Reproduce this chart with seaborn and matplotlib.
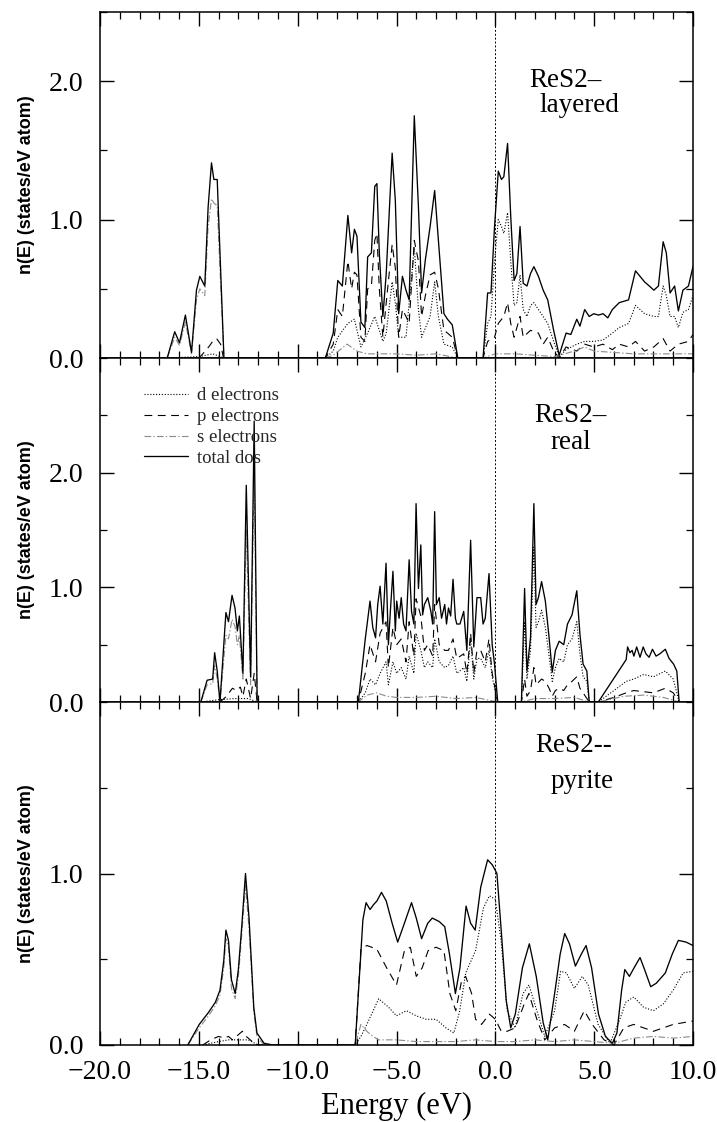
import matplotlib
matplotlib.use("Agg")
import matplotlib.pyplot as plt
import pandas as pd
import seaborn as sns
from matplotlib.ticker import MultipleLocator, FixedLocator, FuncFormatter

# ---------------------------------------------------------------------------
# Density of states, n(E) in states/eV atom, as (energy eV, value) pairs
# ---------------------------------------------------------------------------

# ReS2 layered
layered_total = [
    (-16.6, 0.0), (-16.22, 0.19), (-15.98, 0.11), (-15.68, 0.31), (-15.37, 0.04),
    (-15.12, 0.49), (-14.95, 0.59), (-14.7, 0.52), (-14.53, 1.09), (-14.36, 1.41),
    (-14.24, 1.29), (-14.07, 1.29), (-13.73, 0.0),
    (-8.6, 0.0), (-8.2, 0.18), (-7.97, 0.56), (-7.74, 0.52), (-7.46, 1.03),
    (-7.27, 0.76), (-7.13, 0.93), (-7.0, 0.88), (-6.8, 0.26), (-6.6, 0.22),
    (-6.46, 0.73), (-6.27, 0.76), (-6.1, 1.24), (-5.99, 1.26), (-5.87, 0.76),
    (-5.69, 0.30), (-5.52, 0.61), (-5.22, 1.48), (-5.06, 1.14), (-4.89, 0.32),
    (-4.7, 0.59), (-4.52, 0.49), (-4.36, 0.42), (-4.1, 1.75), (-3.89, 1.09),
    (-3.73, 0.47), (-3.54, 0.71), (-3.3, 0.95), (-3.07, 1.21), (-2.88, 0.85),
    (-2.6, 0.32), (-2.42, 0.28), (-2.18, 0.24), (-1.9, 0.0),
    (-0.62, 0.0), (-0.39, 0.47), (-0.22, 0.47), (-0.04, 0.95), (0.15, 1.35),
    (0.31, 1.29), (0.43, 1.31), (0.62, 1.55), (0.78, 1.02), (0.95, 0.56),
    (1.09, 0.61), (1.25, 0.95), (1.41, 0.54), (1.6, 0.52), (1.78, 0.61),
    (1.95, 0.66), (2.18, 0.59), (2.42, 0.49), (2.65, 0.42), (2.95, 0.20),
    (3.23, 0.02), (3.58, 0.18), (3.82, 0.17), (4.12, 0.28), (4.28, 0.23),
    (4.52, 0.35), (4.75, 0.30), (4.98, 0.32), (5.22, 0.31), (5.45, 0.32),
    (5.69, 0.29), (5.92, 0.35), (6.27, 0.40), (6.74, 0.42), (7.09, 0.63),
    (7.32, 0.59), (7.55, 0.55), (7.79, 0.52), (8.02, 0.49), (8.25, 0.52),
    (8.49, 0.84), (8.65, 0.76), (8.84, 0.47), (9.07, 0.52), (9.26, 0.34),
    (9.49, 0.49), (9.77, 0.52), (10.0, 0.66),
]
layered_d = [
    (-16.6, 0.0), (-15.0, 0.01), (-14.3, 0.03), (-13.73, 0.0),
    (-8.6, 0.0), (-8.2, 0.05), (-7.97, 0.15), (-7.46, 0.25), (-7.13, 0.28),
    (-6.8, 0.08), (-6.46, 0.18), (-6.1, 0.30), (-5.87, 0.20), (-5.69, 0.12),
    (-5.52, 0.18), (-5.22, 0.55), (-5.06, 0.40), (-4.89, 0.15), (-4.52, 0.15),
    (-4.1, 0.80), (-3.89, 0.35), (-3.73, 0.15), (-3.3, 0.30), (-3.07, 0.55),
    (-2.88, 0.30), (-2.6, 0.10), (-2.18, 0.08), (-1.9, 0.0),
    (-0.62, 0.0), (-0.39, 0.25), (-0.22, 0.30), (-0.04, 0.70), (0.15, 1.00),
    (0.31, 0.95), (0.43, 0.90), (0.62, 1.05), (0.78, 0.70), (0.95, 0.38),
    (1.09, 0.40), (1.25, 0.60), (1.41, 0.35), (1.6, 0.30), (1.78, 0.38),
    (1.95, 0.40), (2.18, 0.35), (2.42, 0.30), (2.65, 0.25), (2.95, 0.12),
    (3.23, 0.01), (3.58, 0.06), (4.12, 0.10), (4.52, 0.12), (4.98, 0.12),
    (5.45, 0.13), (5.92, 0.18), (6.27, 0.22), (6.74, 0.25), (7.09, 0.38),
    (7.55, 0.32), (8.02, 0.30), (8.25, 0.30), (8.49, 0.52), (8.65, 0.45),
    (8.84, 0.30), (9.07, 0.30), (9.26, 0.22), (9.49, 0.33), (9.77, 0.35),
    (10.0, 0.45),
]
layered_p = [
    (-15.0, 0.0), (-14.8, 0.03), (-14.5, 0.08), (-14.3, 0.12), (-14.1, 0.14),
    (-13.9, 0.10), (-13.75, 0.0),
    (-8.6, 0.0), (-8.2, 0.10), (-7.97, 0.35), (-7.74, 0.30), (-7.46, 0.70),
    (-7.27, 0.50), (-7.13, 0.62), (-7.0, 0.60), (-6.8, 0.15), (-6.6, 0.12),
    (-6.46, 0.50), (-6.27, 0.52), (-6.1, 0.85), (-5.99, 0.90), (-5.87, 0.50),
    (-5.69, 0.15), (-5.52, 0.40), (-5.22, 0.82), (-5.06, 0.65), (-4.89, 0.15),
    (-4.7, 0.35), (-4.52, 0.30), (-4.36, 0.25), (-4.1, 0.85), (-3.89, 0.70),
    (-3.73, 0.30), (-3.54, 0.45), (-3.3, 0.60), (-3.07, 0.62), (-2.88, 0.50),
    (-2.6, 0.20), (-2.42, 0.18), (-2.18, 0.15), (-1.9, 0.0),
    (-0.62, 0.0), (-0.39, 0.12), (-0.04, 0.15), (0.15, 0.25), (0.43, 0.30),
    (0.62, 0.40), (0.78, 0.25), (0.95, 0.15), (1.25, 0.30), (1.41, 0.15),
    (1.78, 0.20), (2.18, 0.18), (2.42, 0.10), (2.65, 0.15), (2.95, 0.05),
    (3.23, 0.0), (3.58, 0.08), (4.12, 0.05), (4.52, 0.10), (4.98, 0.08),
    (5.45, 0.10), (5.92, 0.06), (6.27, 0.10), (6.74, 0.08), (7.09, 0.12),
    (7.55, 0.05), (8.02, 0.08), (8.49, 0.14), (8.84, 0.05), (9.26, 0.10),
    (9.77, 0.12), (10.0, 0.17),
]
layered_s = [
    (-16.6, 0.0), (-16.22, 0.15), (-15.98, 0.09), (-15.68, 0.26), (-15.37, 0.03),
    (-15.12, 0.42), (-14.95, 0.50), (-14.7, 0.45), (-14.53, 0.95), (-14.36, 1.15),
    (-14.24, 1.12), (-14.07, 1.10), (-13.73, 0.0),
    (-8.6, 0.0), (-8.2, 0.02), (-7.5, 0.10), (-7.0, 0.05), (-6.5, 0.03),
    (-5.0, 0.03), (-4.0, 0.02), (-3.0, 0.03), (-1.9, 0.0),
    (-0.62, 0.0), (0.0, 0.03), (1.0, 0.03), (3.0, 0.01), (4.0, 0.05),
    (4.5, 0.08), (5.0, 0.05), (6.0, 0.04), (7.0, 0.03), (8.0, 0.03),
    (9.0, 0.03), (10.0, 0.03),
]

# ReS2 real structure
real_total = [
    (-14.9, 0.0), (-14.58, 0.19), (-14.3, 0.20), (-14.2, 0.43), (-14.07, 0.27),
    (-13.93, 0.0), (-13.63, 0.78), (-13.5, 0.70), (-13.32, 0.93), (-13.17, 0.82),
    (-13.05, 0.62), (-12.95, 0.75), (-12.77, 0.25), (-12.6, 1.89), (-12.38, 0.22),
    (-12.2, 2.45), (-12.05, 0.0),
    (-6.93, 0.0), (-6.58, 0.55), (-6.34, 0.88), (-6.2, 0.65), (-6.06, 0.56),
    (-5.95, 0.85), (-5.83, 1.01), (-5.69, 0.68), (-5.53, 1.21), (-5.41, 0.50),
    (-5.29, 0.85), (-5.18, 1.14), (-5.06, 0.62), (-4.99, 0.88), (-4.87, 0.73),
    (-4.76, 0.91), (-4.64, 0.68), (-4.52, 0.62), (-4.36, 1.24), (-4.24, 0.79),
    (-4.12, 0.68), (-4.01, 1.73), (-3.89, 0.99), (-3.77, 1.37), (-3.68, 0.76),
    (-3.59, 0.85), (-3.42, 0.91), (-3.26, 0.79), (-3.17, 0.68), (-3.07, 1.66),
    (-2.98, 0.85), (-2.84, 0.91), (-2.72, 0.73), (-2.56, 0.85), (-2.47, 0.68),
    (-2.37, 0.82), (-2.26, 0.75), (-2.14, 1.07), (-2.02, 0.73), (-1.95, 0.68),
    (-1.79, 0.68), (-1.6, 0.79), (-1.44, 0.45), (-1.25, 1.41), (-1.09, 0.48),
    (-0.93, 0.91), (-0.74, 0.91), (-0.62, 0.68), (-0.51, 0.73), (-0.32, 1.12),
    (-0.16, 0.50), (-0.04, 0.33), (0.12, 0.0),
    (1.32, 0.0), (1.48, 0.99), (1.6, 0.27), (1.78, 0.56), (1.95, 1.73),
    (2.06, 0.85), (2.18, 0.91), (2.34, 1.05), (2.53, 0.88), (2.72, 0.56),
    (2.88, 0.26), (3.04, 0.45), (3.23, 0.53), (3.46, 0.50), (3.65, 0.68),
    (3.88, 0.76), (4.12, 0.97), (4.28, 0.59), (4.44, 0.33), (4.63, 0.27),
    (4.75, 0.0),
    (5.21, 0.0), (6.62, 0.37), (6.69, 0.48), (6.81, 0.43), (6.92, 0.45),
    (7.01, 0.40), (7.15, 0.48), (7.32, 0.39), (7.48, 0.48), (7.62, 0.42),
    (7.78, 0.39), (7.95, 0.46), (8.13, 0.40), (8.32, 0.42), (8.6, 0.46),
    (8.79, 0.38), (9.02, 0.33), (9.18, 0.27), (9.3, 0.0),
]
real_d = [
    (-14.9, 0.0), (-14.0, 0.02), (-13.2, 0.03), (-12.5, 0.03), (-12.05, 0.0),
    (-6.93, 0.0), (-6.58, 0.08), (-6.34, 0.20), (-6.06, 0.15), (-5.83, 0.25),
    (-5.53, 0.35), (-5.41, 0.15), (-5.18, 0.35), (-4.99, 0.25), (-4.76, 0.30),
    (-4.52, 0.20), (-4.36, 0.40), (-4.12, 0.25), (-4.01, 0.60), (-3.77, 0.45),
    (-3.59, 0.30), (-3.42, 0.35), (-3.17, 0.30), (-3.07, 0.55), (-2.84, 0.35),
    (-2.56, 0.30), (-2.37, 0.32), (-2.14, 0.40), (-1.95, 0.25), (-1.6, 0.30),
    (-1.44, 0.18), (-1.25, 0.55), (-1.09, 0.20), (-0.93, 0.38), (-0.74, 0.38),
    (-0.51, 0.30), (-0.32, 0.45), (-0.16, 0.22), (0.12, 0.0),
    (1.32, 0.0), (1.48, 0.70), (1.6, 0.20), (1.78, 0.45), (1.95, 1.35),
    (2.06, 0.65), (2.18, 0.70), (2.34, 0.80), (2.53, 0.65), (2.72, 0.40),
    (2.88, 0.18), (3.04, 0.30), (3.23, 0.38), (3.46, 0.35), (3.65, 0.50),
    (3.88, 0.55), (4.12, 0.70), (4.28, 0.42), (4.44, 0.22), (4.63, 0.18),
    (4.75, 0.0),
    (5.21, 0.0), (6.0, 0.10), (6.62, 0.18), (7.0, 0.20), (7.5, 0.24),
    (8.0, 0.22), (8.6, 0.27), (9.0, 0.20), (9.3, 0.0),
]
real_p = [
    (-13.93, 0.0), (-13.6, 0.05), (-13.3, 0.12), (-13.1, 0.10), (-12.9, 0.13),
    (-12.77, 0.05), (-12.6, 0.20), (-12.38, 0.03), (-12.2, 0.25), (-12.05, 0.0),
    (-6.93, 0.0), (-6.58, 0.25), (-6.34, 0.50), (-6.06, 0.35), (-5.83, 0.60),
    (-5.53, 0.70), (-5.41, 0.30), (-5.18, 0.65), (-4.99, 0.50), (-4.76, 0.55),
    (-4.52, 0.35), (-4.36, 0.70), (-4.12, 0.40), (-4.01, 0.90), (-3.77, 0.75),
    (-3.59, 0.45), (-3.42, 0.50), (-3.17, 0.40), (-3.07, 0.85), (-2.84, 0.50),
    (-2.56, 0.45), (-2.37, 0.45), (-2.14, 0.55), (-1.95, 0.38), (-1.6, 0.42),
    (-1.44, 0.25), (-1.25, 0.60), (-1.09, 0.25), (-0.93, 0.45), (-0.74, 0.45),
    (-0.51, 0.35), (-0.32, 0.55), (-0.16, 0.25), (0.12, 0.0),
    (1.32, 0.0), (1.48, 0.20), (1.6, 0.05), (1.78, 0.10), (1.95, 0.30),
    (2.06, 0.15), (2.34, 0.20), (2.53, 0.18), (2.72, 0.12), (2.88, 0.05),
    (3.04, 0.10), (3.23, 0.12), (3.46, 0.10), (3.65, 0.15), (3.88, 0.18),
    (4.12, 0.22), (4.28, 0.12), (4.44, 0.08), (4.75, 0.0),
    (5.21, 0.0), (6.0, 0.04), (6.62, 0.08), (7.0, 0.10), (7.5, 0.09),
    (8.0, 0.08), (8.6, 0.12), (9.0, 0.08), (9.3, 0.0),
]
real_s = [
    (-14.9, 0.0), (-14.58, 0.15), (-14.3, 0.16), (-14.2, 0.32), (-14.07, 0.20),
    (-13.93, 0.0), (-13.63, 0.58), (-13.5, 0.55), (-13.32, 0.72), (-13.17, 0.66),
    (-13.05, 0.50), (-12.95, 0.58), (-12.77, 0.20), (-12.6, 1.50), (-12.38, 0.15),
    (-12.2, 2.00), (-12.05, 0.0),
    (-6.93, 0.0), (-6.5, 0.06), (-6.0, 0.08), (-5.5, 0.05), (-5.0, 0.04),
    (-4.0, 0.04), (-3.0, 0.05), (-2.0, 0.03), (-1.0, 0.04), (0.12, 0.0),
    (1.32, 0.0), (2.0, 0.03), (3.0, 0.03), (4.0, 0.04), (4.75, 0.0),
    (5.21, 0.0), (6.5, 0.05), (7.5, 0.06), (8.5, 0.04), (9.3, 0.0),
]

# ReS2 in the pyrite structure
pyrite_total = [
    (-15.56, 0.0), (-14.98, 0.12), (-14.51, 0.19), (-14.16, 0.25), (-13.93, 0.32),
    (-13.74, 0.49), (-13.63, 0.67), (-13.5, 0.61), (-13.35, 0.38), (-13.16, 0.30),
    (-13.0, 0.44), (-12.83, 0.69), (-12.64, 1.00), (-12.46, 0.74), (-12.22, 0.22),
    (-12.06, 0.07), (-11.7, 0.01), (-11.24, 0.0),
    (-7.09, 0.0), (-6.7, 0.73), (-6.54, 0.83), (-6.34, 0.79), (-6.15, 0.82),
    (-5.99, 0.84), (-5.76, 0.89), (-5.52, 0.84), (-5.22, 0.71), (-4.94, 0.60),
    (-4.66, 0.69), (-4.24, 0.83), (-4.0, 0.74), (-3.73, 0.62), (-3.42, 0.71),
    (-3.19, 0.74), (-2.84, 0.72), (-2.56, 0.69), (-2.32, 0.53), (-2.02, 0.30),
    (-1.79, 0.45), (-1.48, 0.81), (-1.25, 0.71), (-1.02, 0.67), (-0.74, 0.92),
    (-0.39, 1.08), (-0.15, 1.05), (0.08, 1.00), (0.31, 0.65), (0.55, 0.26),
    (0.78, 0.10), (1.01, 0.18), (1.37, 0.45), (1.72, 0.59), (2.07, 0.40),
    (2.42, 0.13), (2.65, 0.03), (3.0, 0.30), (3.28, 0.53), (3.51, 0.65),
    (3.75, 0.59), (4.05, 0.46), (4.35, 0.53), (4.59, 0.58), (4.87, 0.45),
    (5.22, 0.18), (5.57, 0.05), (5.92, 0.01), (6.15, 0.07), (6.39, 0.32),
    (6.55, 0.44), (6.78, 0.40), (7.02, 0.45), (7.32, 0.51), (7.55, 0.44),
    (7.86, 0.34), (8.14, 0.36), (8.6, 0.42), (8.95, 0.53), (9.26, 0.61),
    (9.65, 0.60), (10.0, 0.58),
]
pyrite_d = [
    (-14.8, 0.0), (-14.0, 0.02), (-13.5, 0.03), (-13.0, 0.03), (-12.5, 0.03),
    (-12.0, 0.0),
    (-7.09, 0.0), (-6.8, 0.05), (-6.5, 0.12), (-5.9, 0.27), (-5.4, 0.22),
    (-5.0, 0.17), (-4.5, 0.20), (-4.0, 0.17), (-3.5, 0.15), (-3.0, 0.15),
    (-2.5, 0.10), (-2.1, 0.07), (-1.8, 0.20), (-1.5, 0.42), (-1.0, 0.55),
    (-0.6, 0.80), (-0.3, 0.87), (0.0, 0.85), (0.3, 0.60), (0.6, 0.20),
    (1.0, 0.10), (1.4, 0.30), (1.7, 0.35), (2.1, 0.20), (2.5, 0.05),
    (3.0, 0.20), (3.3, 0.43), (3.6, 0.42), (4.0, 0.33), (4.4, 0.40),
    (4.7, 0.35), (5.2, 0.12), (5.8, 0.01), (6.3, 0.15), (6.6, 0.25),
    (7.0, 0.28), (7.5, 0.22), (8.0, 0.20), (8.5, 0.24), (9.0, 0.32),
    (9.5, 0.42), (10.0, 0.43),
]
pyrite_p = [
    (-14.8, 0.0), (-14.4, 0.03), (-14.0, 0.05), (-13.7, 0.04), (-13.5, 0.05),
    (-13.3, 0.03), (-13.0, 0.06), (-12.8, 0.08), (-12.6, 0.05), (-12.3, 0.02),
    (-12.0, 0.0),
    (-7.09, 0.0), (-6.8, 0.56), (-6.5, 0.58), (-6.0, 0.56), (-5.5, 0.45),
    (-5.0, 0.35), (-4.6, 0.55), (-4.3, 0.57), (-4.0, 0.40), (-3.7, 0.45),
    (-3.4, 0.55), (-3.0, 0.57), (-2.6, 0.55), (-2.3, 0.30), (-2.0, 0.20),
    (-1.7, 0.38), (-1.5, 0.40), (-1.2, 0.30), (-1.0, 0.15), (-0.7, 0.12),
    (-0.3, 0.18), (0.0, 0.15), (0.3, 0.08), (0.6, 0.08), (1.0, 0.10),
    (1.5, 0.25), (1.7, 0.30), (2.1, 0.15), (2.5, 0.03), (3.0, 0.10),
    (3.5, 0.12), (4.0, 0.08), (4.5, 0.20), (4.9, 0.12), (5.5, 0.03),
    (6.0, 0.0), (6.5, 0.10), (7.0, 0.12), (7.5, 0.10), (8.0, 0.08),
    (8.5, 0.10), (9.0, 0.12), (10.0, 0.14),
]
pyrite_s = [
    (-15.56, 0.0), (-14.98, 0.10), (-14.51, 0.17), (-14.16, 0.23), (-13.93, 0.29),
    (-13.74, 0.45), (-13.63, 0.62), (-13.5, 0.57), (-13.35, 0.33), (-13.16, 0.27),
    (-13.0, 0.40), (-12.83, 0.64), (-12.64, 0.93), (-12.46, 0.68), (-12.22, 0.19),
    (-12.06, 0.05), (-11.7, 0.0),
    (-7.09, 0.0), (-6.8, 0.12), (-6.5, 0.08), (-6.2, 0.05), (-5.9, 0.03),
    (-5.0, 0.03), (-4.0, 0.02), (-3.0, 0.02), (-2.0, 0.02), (-1.0, 0.03),
    (0.0, 0.02), (1.0, 0.02), (2.0, 0.03), (3.0, 0.02), (4.0, 0.03),
    (5.0, 0.02), (6.0, 0.01), (7.0, 0.04), (8.0, 0.05), (9.0, 0.04),
    (10.0, 0.05),
]

panel_names = [("ReS2\u2013", "layered"), ("ReS2\u2013", "real"), ("ReS2--", "pyrite")]
panel_ylim = [2.5, 3.0, 2.0]
panel_yticks = [[0.0, 1.0, 2.0], [0.0, 1.0, 2.0], [0.0, 1.0]]
x_ticks = [-20.0, -15.0, -10.0, -5.0, 0.0, 5.0, 10.0]
series_labels = ["d electrons", "p electrons", "s electrons", "total dos"]

panels = [
    [layered_d, layered_p, layered_s, layered_total],
    [real_d, real_p, real_s, real_total],
    [pyrite_d, pyrite_p, pyrite_s, pyrite_total],
]

# Name positions (energy, n(E)) of the two text lines per panel
name_pos = [
    [(3.57, 1.96), (4.28, 1.78)],
    [(3.78, 2.44), (3.83, 2.21)],
    [(3.94, 1.71), (4.41, 1.50)],
]

# ---------------------------------------------------------------------------
sns.set_theme(style="ticks")
plt.rcParams["font.family"] = ["Liberation Serif", "DejaVu Serif"]
plt.rcParams["axes.edgecolor"] = "black"
plt.rcParams["axes.linewidth"] = 1.1

styles = [
    dict(color="black", linewidth=0.8, linestyle=(0, (1.0, 1.6))),
    dict(color="black", linewidth=0.8, linestyle=(0, (7, 5))),
    dict(color="#8a8a8a", linewidth=0.8, linestyle=(0, (6, 2, 1.2, 2))),
    dict(color="black", linewidth=0.95, linestyle="-"),
]


def one_decimal(value, pos):
    # one decimal place, typographic minus sign
    return f"{value:.1f}".replace("-", "\u2212")


fig = plt.figure(figsize=(7.17, 11.22), dpi=100)
left, width = 100 / 717, 593 / 717
tops = [12, 358, 702, 1045]

axes = []
for i in range(3):
    bottom = 1 - tops[i + 1] / 1122
    height = (tops[i + 1] - tops[i]) / 1122
    axes.append(fig.add_axes([left, bottom, width, height]))

for i, ax in enumerate(axes):
    for series, style, label in zip(panels[i], styles, series_labels):
        df = pd.DataFrame(series, columns=["energy", "dos"])
        sns.lineplot(data=df, x="energy", y="dos", ax=ax, estimator=None,
                     sort=False, label=label if i == 1 else None,
                     legend=False, **style)

    ax.axvline(0.0, color="black", linewidth=0.7, linestyle=(0, (2, 2)))

    ax.set_xlim(-20, 10)
    ax.set_ylim(0, panel_ylim[i])
    ax.xaxis.set_major_locator(FixedLocator(x_ticks))
    ax.xaxis.set_minor_locator(MultipleLocator(1.0))
    ax.yaxis.set_major_locator(FixedLocator(panel_yticks[i]))
    ax.yaxis.set_minor_locator(MultipleLocator(0.5))
    ax.xaxis.set_major_formatter(FuncFormatter(one_decimal))
    ax.yaxis.set_major_formatter(FuncFormatter(one_decimal))
    ax.tick_params(which="both", direction="in", top=True, right=True,
                   colors="black", labelsize=20)
    ax.tick_params(which="major", length=10, width=1.0)
    ax.tick_params(which="minor", length=5, width=0.9)
    ax.tick_params(axis="y", pad=12)
    ax.tick_params(axis="x", pad=11)
    for sp in ax.spines.values():
        sp.set_visible(True)
        sp.set_color("black")

    if i < 2:
        ax.tick_params(axis="x", labelbottom=False)
        ax.set_xlabel("")
    else:
        ax.set_xlabel("Energy (eV)", fontsize=22, color="black")
        ax.xaxis.set_label_coords(0.5, -0.138)

    ax.set_ylabel("n(E) (states/eV atom)", fontsize=13, fontweight="bold",
                  family=["Liberation Sans", "DejaVu Sans"], color="black")
    ax.yaxis.set_label_coords(-0.11, 0.5)

    (x1, y1), (x2, y2) = name_pos[i]
    ax.text(x1, y1, panel_names[i][0], ha="center", va="baseline",
            fontsize=19.5, color="black")
    ax.text(x2, y2, panel_names[i][1], ha="center", va="baseline",
            fontsize=19.5, color="black")

axes[1].legend(loc="upper left", bbox_to_anchor=(0.075, 0.915), frameon=False,
               fontsize=13.5, handlelength=2.3, handletextpad=0.5,
               labelspacing=0.2, borderaxespad=0, borderpad=0)

fig.savefig("out.png", dpi=100)
